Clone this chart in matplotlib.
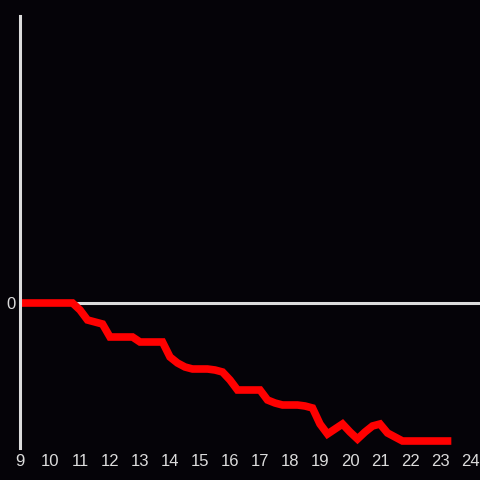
import numpy as np
import matplotlib
matplotlib.use("Agg")
import matplotlib.pyplot as plt

# time of day (hours, 15 min steps) and running value
hours = np.arange(9.0, 23.26, 0.25)
values = [0, 0, 0, 0, 0, 0, 0, 0,
          -0.7, -1.7, -1.9, -2.1, -3.4, -3.4, -3.4, -3.4,
          -3.9, -3.9, -3.9, -3.9, -5.4, -6.0, -6.4, -6.6,
          -6.6, -6.6, -6.7, -6.9, -7.7, -8.7, -8.7, -8.7,
          -8.7, -9.7, -10.0, -10.2, -10.2, -10.2, -10.3, -10.5,
          -12.1, -13.1, -12.6, -12.1, -12.9, -13.6, -12.9, -12.3,
          -12.1, -13.0, -13.4, -13.8, -13.8, -13.8, -13.8, -13.8,
          -13.8, -13.8]
xticks = list(range(9, 25))

bg = '#050308'
fg = '#dcdcdc'
plt.rcParams['font.family'] = ['Liberation Sans', 'DejaVu Sans']

fig = plt.figure(figsize=(4.8, 4.8), dpi=100, facecolor=bg)
ax = fig.add_axes([20/480, 32/480, 460/480, 432/480], facecolor=bg)

ax.axhline(0, color=fg, lw=2.2, zorder=1)
ax.plot(hours, values, color='#ff0000', lw=5.5, solid_joinstyle='miter', zorder=2)

ax.set_xlim(9, 24.333)
ax.set_ylim(-14.5, 28.7)
ax.set_xticks(xticks)
ax.set_yticks([0])

for s in ['top', 'right', 'bottom']:
    ax.spines[s].set_visible(False)
ax.spines['left'].set_color(fg)
ax.spines['left'].set_linewidth(2.2)
ax.tick_params(colors=fg, length=0, labelsize=12)
ax.tick_params(axis='x', pad=4)
ax.tick_params(axis='y', pad=3)

fig.savefig('out.png', facecolor=bg)
